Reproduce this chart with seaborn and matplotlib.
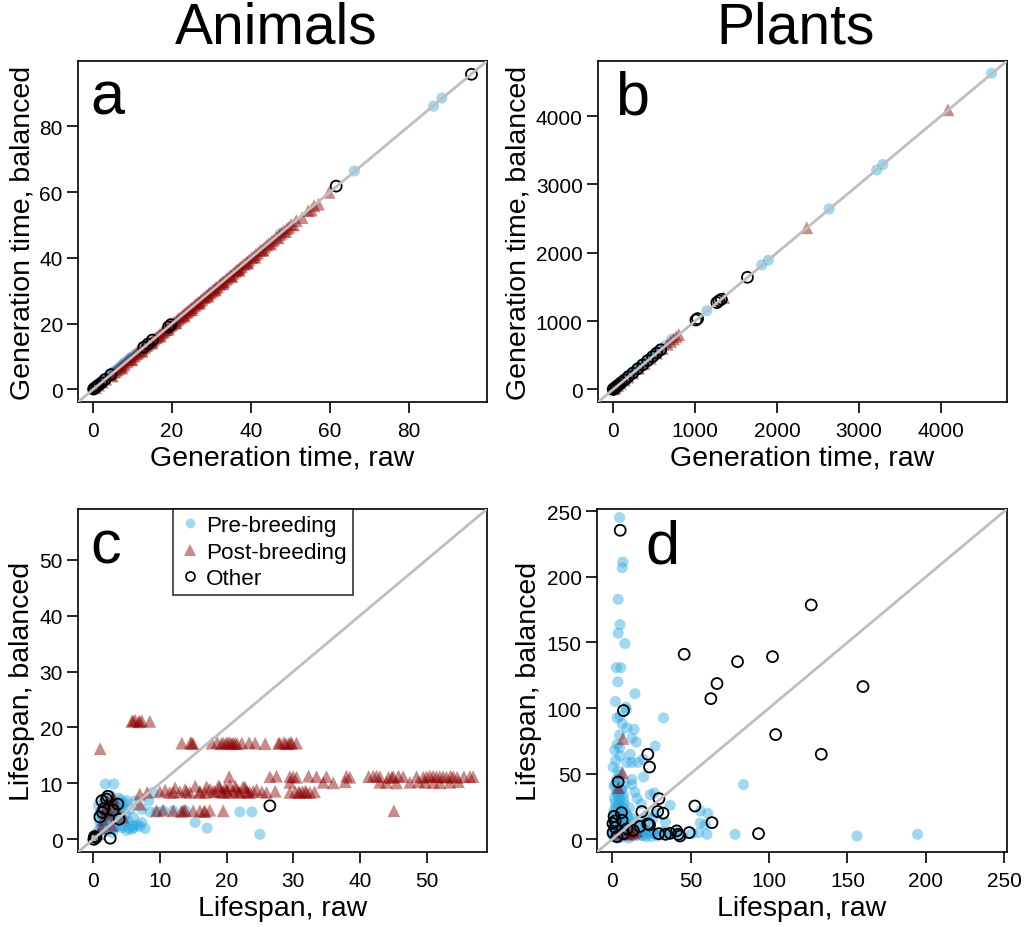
import numpy as np
import pandas as pd
import matplotlib
matplotlib.use("Agg")
import matplotlib.pyplot as plt
import seaborn as sns
from matplotlib.lines import Line2D

# ─── DATA ───────────────────────────────────────────────────────────────────
# panel a: animals, generation time (raw vs balanced)
A_PRE_X = [0.3, 0.9, 1.6, 2.2, 2.9, 3.5, 4.1, 4.8, 5.4, 6.1, 6.7, 7.4, 8.0, 8.7,
           9.3, 10.0, 10.8, 11.9, 13.2, 2.5, 3.8, 5.1, 6.4, 7.7, 8.9, 9.6,
           47.6, 66.2, 86.3, 88.4]
A_PRE_Y = [0.4, 0.9, 1.5, 2.3, 2.9, 3.4, 4.2, 4.8, 5.5, 6.0, 6.8, 7.3, 8.1, 8.6,
           9.4, 9.9, 10.9, 11.8, 13.3, 2.6, 3.7, 5.2, 6.3, 7.8, 8.8, 9.7,
           47.5, 66.4, 86.1, 88.6]
A_POST_X = [0.6, 1.4, 2.3, 3.2, 4.4, 5.3, 6.2, 7.1, 8.0, 9.1, 10.2, 11.0, 11.8, 12.6,
            13.5, 14.3, 15.0, 15.8, 16.5, 17.3, 18.0, 18.8, 19.6, 20.3, 21.1, 21.8,
            22.6, 23.4, 24.1, 24.9, 25.7, 26.4, 27.2, 28.0, 28.8, 29.5, 30.3, 31.1,
            32.0, 32.8, 33.7, 34.6, 35.5, 36.4, 37.2, 38.1, 39.0, 40.1, 41.2, 42.3,
            43.4, 44.5, 45.3, 46.4, 47.2, 48.3, 49.1, 50.2, 51.5, 54.5, 56.0, 59.8,
            5.8, 6.7, 7.6, 8.6, 9.6, 10.6, 11.4, 12.2, 13.1, 13.9, 14.7, 15.4, 16.2,
            16.9, 17.7, 18.4, 19.2, 19.9, 20.7, 21.5, 22.2, 23.0, 23.8, 24.5, 25.3,
            26.1, 26.8, 27.6, 28.4, 29.2, 29.9, 30.7, 31.5, 32.4, 33.2, 34.1, 35.0,
            36.0, 36.8, 37.6, 38.6, 39.5, 40.6, 41.7, 42.8, 44.0, 45.8, 47.7, 49.6,
            4.9, 7.3, 9.8, 12.4, 14.9, 17.0, 19.0, 21.0, 23.1, 25.0, 27.0, 29.1,
            31.0, 33.0, 35.1, 37.0, 39.2, 41.0, 43.1, 45.0, 46.9, 48.8, 50.8, 53.0,
            55.3, 57.1]
A_POST_Y = [0.5, 1.3, 2.2, 3.1, 4.3, 5.2, 6.0, 7.0, 7.8, 9.0, 10.0, 10.9, 11.6, 12.5,
            13.3, 14.2, 14.8, 15.7, 16.3, 17.2, 17.8, 18.7, 19.4, 20.2, 20.9, 21.7,
            22.4, 23.3, 23.9, 24.8, 25.5, 26.3, 27.0, 27.9, 28.6, 29.4, 30.1, 31.0,
            31.8, 32.7, 33.5, 34.5, 35.3, 36.3, 37.0, 38.0, 38.8, 40.0, 41.0, 42.2,
            43.2, 44.4, 45.1, 46.3, 47.0, 48.2, 48.9, 50.1, 51.3, 54.3, 55.8, 59.9,
            5.5, 6.5, 7.3, 8.4, 9.3, 10.4, 11.1, 12.0, 12.8, 13.7, 14.4, 15.2, 15.9,
            16.7, 17.4, 18.2, 18.9, 19.7, 20.4, 21.3, 21.9, 22.8, 23.5, 24.3, 25.0,
            25.9, 26.5, 27.4, 28.1, 29.0, 29.6, 30.5, 31.2, 32.2, 32.9, 33.9, 34.7,
            35.8, 36.5, 37.4, 38.3, 39.3, 40.3, 41.5, 42.5, 43.8, 45.5, 47.5, 49.3,
            4.1, 6.5, 9.0, 11.6, 14.1, 16.2, 18.2, 20.2, 22.3, 24.2, 26.2, 28.3,
            30.2, 32.2, 34.3, 36.2, 38.4, 40.2, 42.3, 44.2, 46.1, 48.0, 50.0, 52.2,
            54.5, 56.3]
A_OTH_X = [0.1, 0.4, 0.8, 1.3, 2.1, 3.0, 4.5, 12.8, 13.9, 15.0, 19.1, 19.7, 61.6, 95.9]
A_OTH_Y = [0.1, 0.4, 0.8, 1.3, 2.0, 3.0, 4.5, 12.8, 13.8, 15.0, 19.0, 19.7, 61.8, 95.8]

# panel b: plants, generation time
B_PRE_X = [3, 12, 22, 35, 48, 62, 78, 95, 112, 130, 150, 172, 195, 220, 245, 272,
           300, 330, 362, 395, 430, 468, 505, 545, 590, 640, 18, 40, 70, 105, 140,
           185, 232, 285, 345, 410, 480, 560, 720, 1142, 1813, 1894,
           2634, 3216, 3289, 4618]
B_PRE_Y = [4, 13, 21, 36, 47, 63, 79, 94, 113, 131, 149, 173, 196, 219, 246, 271,
           301, 331, 361, 396, 431, 467, 506, 546, 589, 641, 17, 41, 69, 106, 139,
           186, 231, 286, 344, 411, 479, 561, 735, 1150, 1820, 1890,
           2640, 3210, 3290, 4625]
B_POST_X = [8, 25, 55, 90, 135, 180, 240, 310, 380, 455, 530, 600, 660, 700, 735,
            770, 800, 1350, 2362, 4085]
B_POST_Y = [9, 24, 56, 89, 136, 179, 241, 309, 381, 454, 531, 599, 661, 701, 736,
            771, 801, 1345, 2365, 4090]
B_OTH_X = [0, 6, 15, 30, 45, 70, 100, 140, 185, 240, 300, 360, 420, 480, 530, 580,
           1010, 1030, 1265, 1290, 1320, 1638]
B_OTH_Y = [0, 5, 16, 29, 46, 69, 101, 139, 186, 239, 301, 359, 421, 479, 531, 579,
           1015, 1035, 1270, 1295, 1318, 1640]

# panel c: animals, lifespan
C_PRE_X = [1.8, 3.1, 5.05, 6.3, 8.3, 5.5, 7.3, 6.05, 7.3, 3.05, 4.3, 5.3, 6.05,
           8.55, 9.55, 15.3, 17.1, 22.0, 23.8, 25.0, 9.0, 10.5, 12.0, 13.8, 0.3,
           0.6, 1.0, 1.3, 1.6, 2.0, 2.4, 2.8, 3.3, 3.7, 4.1, 4.6, 0.8, 1.5, 2.2,
           2.9, 3.6, 4.4, 5.0, 1.1, 1.9, 2.6, 3.4, 4.0, 4.8, 5.8, 6.6, 7.8, 2.1,
           3.0, 1.4, 1.2, 1.7, 2.3, 2.7, 3.2, 3.9, 4.5, 1.0, 1.5, 2.5, 3.5, 4.2,
           0.9, 1.9, 2.9, 5.2, 6.0, 7.0, 4.7, 3.8]
C_PRE_Y = [9.9, 9.9, 6.9, 6.9, 6.9, 5.4, 5.4, 3.9, 3.0, 2.1, 2.1, 2.1, 2.1,
           4.9, 4.9, 3.0, 2.0, 4.9, 4.9, 0.9, 8.4, 5.1, 5.1, 5.1, 0.5,
           1.2, 1.8, 2.5, 3.2, 3.8, 4.5, 5.2, 5.9, 6.5, 7.0, 3.4, 6.0, 7.2, 2.8,
           4.0, 5.5, 6.2, 1.6, 4.8, 6.6, 7.8, 2.2, 3.6, 4.4, 1.8, 2.6, 1.9, 5.8,
           6.8, 3.9, 5.0, 6.2, 4.2, 5.6, 4.6, 5.9, 2.4, 3.0, 2.0, 3.5, 2.6, 5.3,
           4.5, 1.4, 1.2, 3.3, 2.4, 2.3, 6.5, 7.4]
C_POST_X = [5.8, 6.3, 6.8, 7.3, 8.5, 6.0, 7.0, 1.05,
            13.3, 14.6, 15.0, 17.8, 18.6, 19.2, 19.9, 20.5, 21.0, 21.6, 22.3, 23.4,
            24.3, 25.8, 27.8, 28.6, 29.3, 29.8, 30.5, 19.5, 20.2, 20.8, 21.3, 28.0,
            28.9, 29.6, 14.8,
            26.5, 27.5, 29.5, 30.5, 32.3, 33.5, 35.0, 38.0, 38.5, 41.3, 42.0, 43.0,
            44.3, 45.0, 45.8, 46.5, 48.5, 49.5, 50.5, 51.5, 52.5, 53.6, 54.6, 55.6,
            56.5, 57.0, 30.0, 42.5, 44.8, 50.0, 51.0, 52.0, 53.0, 54.0,
            29.5, 34.5, 36.0, 37.8, 43.0, 44.0, 45.5, 47.5, 48.8, 49.8, 51.0, 52.0,
            53.5, 54.8, 20.4,
            8.1, 10.0, 10.8, 11.5, 12.3, 13.0, 13.8, 14.5, 15.3, 16.0, 16.8, 17.5,
            18.3, 19.0, 19.5, 20.0, 20.5, 21.0, 21.5, 22.0, 22.5, 23.0, 23.5, 24.5,
            25.3, 26.0, 27.3, 29.5, 30.3, 31.0, 31.8, 32.5, 33.2, 17.0, 18.8, 19.8,
            21.3, 22.8, 12.0, 14.0, 16.0, 18.0, 19.2, 20.2, 21.8, 23.2, 24.0, 30.8,
            31.4, 32.0,
            9.5, 10.5, 12.0, 13.2, 13.8, 15.0, 16.0, 16.8, 17.5, 19.5, 45.1, 13.5,
            16.6,
            1.5, 2.0, 2.5, 3.0, 1.2, 3.5, 0.8, 2.8, 4.5, 7.0, 7.0, 1.8, 2.2, 3.2]
C_POST_Y = [21.1, 21.3, 21.0, 21.2, 21.1, 21.2, 21.1, 16.2,
            17.2, 17.3, 17.1, 17.2, 17.3, 17.1, 17.2, 17.3, 17.2, 17.1, 17.2, 17.3,
            17.2, 17.1, 17.2, 17.3, 17.1, 17.2, 17.2, 17.2, 17.3, 17.1, 17.2, 17.2,
            17.1, 17.3, 17.2,
            11.2, 11.3, 11.2, 11.1, 11.3, 11.2, 11.2, 11.3, 11.1, 11.2, 11.3, 11.2,
            11.1, 11.2, 11.3, 11.2, 11.2, 11.1, 11.3, 11.2, 11.2, 11.3, 11.1, 11.2,
            11.2, 11.2, 11.2, 11.3, 11.1, 11.2, 11.3, 11.2, 11.1, 11.2,
            10.2, 10.2, 10.1, 10.3, 10.2, 10.2, 10.1, 10.2, 10.3, 10.2, 10.2, 10.1,
            10.2, 10.3, 11.2,
            8.4, 8.5, 8.8, 8.4, 9.2, 8.5, 8.9, 8.4, 9.5, 8.6, 8.4, 9.0,
            8.5, 9.3, 8.4, 8.8, 9.6, 8.5, 9.0, 8.4, 9.4, 8.6, 8.4, 8.9,
            8.5, 8.4, 8.6, 8.4, 8.5, 8.4, 8.6, 8.4, 8.5, 9.4, 9.6, 9.2,
            9.5, 9.3, 8.4, 8.5, 8.4, 8.6, 8.5, 8.4, 8.5, 8.4, 8.6, 8.4,
            8.5, 8.4,
            5.1, 5.2, 5.1, 5.0, 5.2, 5.1, 5.1, 5.0, 5.2, 5.1, 5.1, 5.1,
            5.0,
            3.5, 6.0, 4.5, 7.5, 2.0, 5.5, 1.0, 2.5, 4.0, 8.1, 6.3, 5.0, 7.0, 6.5]
C_OTH_X = [26.5, 2.55, 1.3, 2.2, 3.7, 3.9, 1.0, 0.4, 0.1, 1.4, 3.0, 2.0, 1.6, 0.2]
C_OTH_Y = [6.0, 0.2, 6.9, 7.7, 6.3, 3.6, 4.0, 0.3, 0.0, 4.8, 5.2, 7.2, 5.5, 0.5]

# panel d: plants, lifespan
D_PRE_X = [4.7, 6.8, 6.4, 3.8, 5.0, 3.8, 8.1, 2.6, 5.5, 14.5, 32.7, 3.0, 5.0, 8.6,
           9.0, 9.4, 14.0, 12.5, 15.3, 4.7, 5.1, 11.5, 27.4, 9.4, 12.5, 16.2, 19.6,
           20.0, 83.7, 12.5, 12.5, 15.8, 24.3, 26.8, 37.0, 61.0, 56.2, 56.2, 59.4,
           33.9, 78.4, 156.1, 194.7, 60.4, 55.1, 50.9, 30.6, 34.9, 39.1,
           1.0, 2.0, 3.0, 1.5, 2.5, 4.0, 1.2, 3.5, 2.0, 5.0, 3.0, 6.0, 2.0, 4.5,
           7.0, 8.0, 9.0, 6.5, 10.0, 8.5, 11.0, 7.5, 12.0, 13.0, 14.0, 15.0, 16.0,
           17.0, 18.0, 19.0, 20.0, 21.0, 22.0, 23.0, 24.0, 25.0, 6.0, 10.5, 3.5,
           0.5, 0.8, 5.5, 4.0, 2.8, 9.5, 11.5, 13.5, 7.0, 8.0, 26.0, 28.0, 18.5,
           14.5, 21.5, 27.0,
           0.3, 1.8, 3.2, 4.6, 6.2, 7.8, 9.9, 12.6, 0.9, 2.4, 3.9, 5.3, 6.9, 8.6,
           10.8, 1.4, 2.9, 4.4, 5.9, 7.4, 9.2, 1.1, 2.6, 4.1, 5.6, 7.1, 0.6, 2.2,
           3.7, 5.2, 1.6, 3.3, 4.8, 6.4, 2.1, 3.6, 16.8, 19.5, 22.6, 25.8, 29.0,
           32.5, 36.0, 40.5, 44.8]
D_PRE_Y = [245.2, 211.3, 207.0, 182.9, 163.6, 157.0, 149.2, 130.8, 130.8, 111.0,
           92.5, 92.5, 94.0, 100.7, 99.0, 84.8, 83.8, 77.0, 74.0, 69.9, 63.6, 64.8,
           71.1, 58.5, 58.5, 58.5, 61.0, 47.5, 41.7, 45.6, 41.8, 31.2, 34.0, 35.3,
           25.9, 19.8, 21.5, 12.4, 11.1, 13.2, 3.8, 2.5, 3.8, 3.8, 5.0, 4.3, 5.0,
           3.8, 4.3,
           2.0, 5.0, 8.0, 12.0, 15.0, 18.0, 22.0, 25.0, 28.0, 30.0, 35.0, 38.0,
           42.0, 46.0, 3.0, 7.0, 11.0, 14.0, 17.0, 21.0, 24.0, 27.0, 4.0, 9.0,
           13.0, 2.5, 6.0, 10.0, 15.0, 3.0, 7.5, 12.0, 18.0, 4.5, 9.0, 2.0, 1.5,
           1.0, 0.8, 6.5, 17.0, 9.5, 4.0, 1.5, 5.5, 8.0, 16.0, 34.0, 42.0, 16.0,
           20.0, 27.0, 36.0, 2.0, 4.0,
           3.5, 9.5, 13.5, 6.5, 11.5, 5.0, 8.5, 3.0, 19.5, 24.5, 10.5, 20.5, 16.5,
           13.0, 6.0, 31.5, 36.5, 27.5, 24.0, 30.5, 18.5, 40.5, 45.5, 33.5, 37.5,
           22.5, 55.0, 60.0, 52.0, 49.0, 68.0, 72.5, 79.5, 88.0, 105.0, 120.0,
           4.5, 3.0, 6.5, 5.5, 2.5, 6.0, 4.0, 5.5, 3.0]
D_POST_X = [6.8, 6.6, 4.0, 13.6, 15.7, 9.4, 12.0, 2.0, 3.5, 11.0]
D_POST_Y = [76.8, 50.8, 39.4, 5.0, 6.3, 3.8, 4.5, 3.0, 6.0, 7.0]
D_OTH_X = [5.1, 126.9, 45.9, 79.9, 102.2, 66.8, 62.9, 159.9, 104.2, 133.3, 7.2,
           22.7, 23.8, 3.8, 29.8, 52.7, 29.0, 32.4, 63.6, 93.3, 49.1, 41.1, 37.0,
           42.1, 43.2, 29.6, 18.9, 22.7, 23.8, 5.9, 1.9, 1.9, 7.2, 0.5, 0.5, 13.4,
           17.7, 34.0, 6.3, 3.0, 9.5, 1.2]
D_OTH_Y = [235.5, 178.6, 141.0, 135.4, 139.2, 118.7, 107.2, 116.4, 79.8, 64.8,
           98.1, 64.8, 55.1, 43.7, 31.0, 25.4, 21.2, 19.9, 12.7, 4.3, 5.1, 6.4, 4.6,
           3.8, 2.5, 4.3, 21.1, 11.7, 11.0, 20.3, 14.0, 9.0, 4.3, 5.0, 12.0, 6.8,
           9.8, 3.8, 14.5, 2.0, 8.0, 17.5]

GROUPS = ["Pre-breeding", "Post-breeding", "Other"]
PRE_COLOR = "#29A8E0"
POST_COLOR = "#8B0000"
LINE_COLOR = "#BEBEBE"
# ─────────────────────────────────────────────────────────────────────────────

sns.set_style("ticks")
plt.rcParams["font.family"] = ["Liberation Sans", "DejaVu Sans"]
plt.rcParams["axes.linewidth"] = 1.2
plt.rcParams["axes.edgecolor"] = "black"
plt.rcParams["text.color"] = "black"
plt.rcParams["axes.labelcolor"] = "black"
plt.rcParams["xtick.color"] = "black"
plt.rcParams["ytick.color"] = "black"


def draw_panel(ax, pre, post, oth, lim, ticks, letter, letter_x, xlabel, ylabel):
    sns.scatterplot(x=pre[0], y=pre[1], ax=ax, color=PRE_COLOR, alpha=0.44,
                    s=64, marker="o", edgecolor="none", linewidth=0)
    sns.scatterplot(x=post[0], y=post[1], ax=ax, color=POST_COLOR, alpha=0.46,
                    s=85, marker="^", edgecolor="none", linewidth=0)
    sns.scatterplot(x=oth[0], y=oth[1], ax=ax, marker="o", s=62,
                    facecolor="none", edgecolor="black", linewidth=1.3)
    ax.axline((0, 0), (1, 1), color=LINE_COLOR, lw=2, zorder=5)
    ax.set_xlim(lim)
    ax.set_ylim(lim)
    ax.set_xticks(ticks)
    ax.set_yticks(ticks)
    for sp in ax.spines.values():
        sp.set_visible(True)
    ax.tick_params(axis="x", direction="out", length=8, width=1.2, labelsize=15, pad=6)
    ax.tick_params(axis="y", direction="out", length=8, width=1.2, labelsize=15, pad=3)
    ax.set_xlabel(xlabel, fontsize=20.5, labelpad=3)
    ax.set_ylabel(ylabel, fontsize=20.5, labelpad=3)
    ax.text(letter_x, 0.845, letter, transform=ax.transAxes, fontsize=44,
            ha="left", va="baseline")


fig = plt.figure(figsize=(10.27, 9.28), dpi=100)
ax_a = fig.add_axes([0.0760, 0.5657, 0.3982, 0.3675])
ax_b = fig.add_axes([0.5823, 0.5657, 0.3982, 0.3675])
ax_c = fig.add_axes([0.0760, 0.0808, 0.3982, 0.3696])
ax_d = fig.add_axes([0.5813, 0.0808, 0.3992, 0.3696])

draw_panel(ax_a, (A_PRE_X, A_PRE_Y), (A_POST_X, A_POST_Y), (A_OTH_X, A_OTH_Y),
           (-3.84, 99.84), [0, 20, 40, 60, 80], "a", 0.029,
           "Generation time, raw", "Generation time, balanced")
draw_panel(ax_b, (B_PRE_X, B_PRE_Y), (B_POST_X, B_POST_Y), (B_OTH_X, B_OTH_Y),
           (-185, 4805), [0, 1000, 2000, 3000, 4000], "b", 0.042,
           "Generation time, raw", "Generation time, balanced")
draw_panel(ax_c, (C_PRE_X, C_PRE_Y), (C_POST_X, C_POST_Y), (C_OTH_X, C_OTH_Y),
           (-2.27, 59.07), [0, 10, 20, 30, 40, 50], "c", 0.029,
           "Lifespan, raw", "Lifespan, balanced")
draw_panel(ax_d, (D_PRE_X, D_PRE_Y), (D_POST_X, D_POST_Y), (D_OTH_X, D_OTH_Y),
           (-9.7, 251.7), [0, 50, 100, 150, 200, 250], "d", 0.117,
           "Lifespan, raw", "Lifespan, balanced")

# legend in panel c
handles = [
    Line2D([], [], ls="none", marker="o", markersize=7, color=PRE_COLOR, alpha=0.44,
           markeredgewidth=0),
    Line2D([], [], ls="none", marker="^", markersize=8, color=POST_COLOR, alpha=0.46,
           markeredgewidth=0),
    Line2D([], [], ls="none", marker="o", markersize=6.5, markerfacecolor="none",
           markeredgecolor="black", markeredgewidth=1.2),
]
leg = ax_c.legend(handles, GROUPS, loc="upper left", bbox_to_anchor=(0.232, 1.0),
                  borderaxespad=0, fontsize=16.2, frameon=True, fancybox=False,
                  handletextpad=0.2, handlelength=1.0, borderpad=0.28,
                  labelspacing=0.24)
leg.get_frame().set_edgecolor("black")
leg.get_frame().set_linewidth(1.2)
leg.set_zorder(10)

fig.text(276 / 1027, 1 - 43 / 928, "Animals", fontsize=41, ha="center", va="baseline")
fig.text(796 / 1027, 1 - 43 / 928, "Plants", fontsize=41, ha="center", va="baseline")

fig.savefig("out.png", dpi=100)
